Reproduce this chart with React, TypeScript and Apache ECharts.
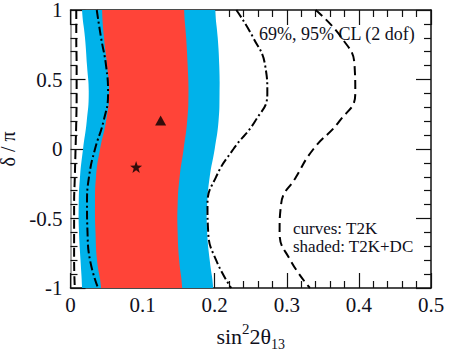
import React, { useEffect, useRef } from "react";
import * as echarts from "echarts";

// delta/pi sample levels (top to bottom)
const Y_LEVELS = [1, 0.8, 0.6, 0.4, 0.2, 0, -0.2, -0.4, -0.6, -0.8, -1];

// shaded: T2K+DC 95% CL band
const BLUE_LEFT = [0.016, 0.0201, 0.0229, 0.0253, 0.0225, 0.0174, 0.0132, 0.0114, 0.0118, 0.0139, 0.016];
const BLUE_RIGHT = [0.2007, 0.2042, 0.2063, 0.2067, 0.2053, 0.2, 0.1931, 0.1896, 0.1896, 0.1931, 0.1979];
// shaded: T2K+DC 69% CL band
const RED_LEFT = [0.0438, 0.0465, 0.0507, 0.0535, 0.0493, 0.041, 0.0354, 0.034, 0.0347, 0.0368, 0.0424];
const RED_RIGHT = [0.1576, 0.1604, 0.1625, 0.1636, 0.1618, 0.1569, 0.1514, 0.1486, 0.1486, 0.1507, 0.1549];
// curves: T2K 69% CL (dash-dot)
const T2K69_LEFT = [0.0364, 0.0424, 0.0493, 0.0521, 0.0458, 0.034, 0.0257, 0.0229, 0.0236, 0.0271, 0.0382];
const T2K69_RIGHT = [0.23, 0.2535, 0.27, 0.273, 0.256, 0.226, 0.202, 0.19, 0.191, 0.202, 0.223];
// curves: T2K 95% CL (dashed)
const T2K95_LEFT = [0.008, 0.008, 0.0085, 0.0085, 0.008, 0.007, 0.006, 0.005, 0.005, 0.005, 0.006];
const T2K95_RIGHT = [0.34, 0.376, 0.394, 0.395, 0.373, 0.337, 0.313, 0.292, 0.29, 0.305, 0.332];

// best fit points
const BEST_T2K_DC: [number, number] = [0.091, -0.13];
const BEST_T2K: [number, number] = [0.125, 0.205];

const X_TICKS = [0, 0.1, 0.2, 0.3, 0.4, 0.5];
const Y_TICKS = [-1, -0.5, 0, 0.5, 1];

const RED = "#FF4438";
const BLUE = "#00B2EA";
const TEXT = "#10101c";
const FONT = "Liberation Serif";

const STAR =
  "path://M0,-10 L2.35,-3.24 9.51,-3.09 3.8,1.24 5.88,8.09 0,4 -5.88,8.09 -3.8,1.24 -9.51,-3.09 -2.35,-3.24Z";

const pairs = (xs: number[]) => xs.map((x, i) => [x, Y_LEVELS[i]]);

const BANDS = [
  { left: BLUE_LEFT, right: BLUE_RIGHT, color: BLUE },
  { left: RED_LEFT, right: RED_RIGHT, color: RED },
];

export default function App() {
  const ref = useRef<HTMLDivElement>(null);
  useEffect(() => {
    if (!ref.current) return;
    const chart = echarts.init(ref.current, null, { renderer: "svg" });
    const axisCommon = (labels: boolean, lineColor: string) => ({
      axisLine: { show: true, onZero: false, lineStyle: { color: lineColor, width: 1.5 } },
      axisTick: { show: true, inside: true, length: 15, lineStyle: { color: "#111", width: 1.2 } },
      minorTick: { show: true, splitNumber: 5, length: 7, lineStyle: { color: "#111", width: 1.2 } },
      splitLine: { show: false },
      axisLabel: { show: labels },
    });
    const tickLabel = (margin: number) => ({
      show: true,
      fontFamily: FONT,
      fontSize: 21,
      color: TEXT,
      margin,
      formatter: (v: number) => String(+v.toFixed(2)),
    });
    chart.setOption({
      animation: false,
      textStyle: { fontFamily: FONT },
      grid: { left: 70.5, right: 30, top: 10, bottom: 68, outerBoundsMode: "none", containLabel: false },
      xAxis: [
        {
          type: "value",
          min: X_TICKS[0],
          max: X_TICKS[X_TICKS.length - 1],
          interval: 0.1,
          position: "bottom",
          ...axisCommon(true, "#111"),
          axisLabel: tickLabel(6),
          name: "{m|sin}{sup|2}{m|2θ}{sub|13}",
          nameLocation: "middle",
          nameGap: 33,
          nameTextStyle: {
            rich: {
              m: { fontFamily: FONT, fontSize: 22, lineHeight: 30, color: TEXT, verticalAlign: "middle" },
              sup: { fontFamily: FONT, fontSize: 15, lineHeight: 4, color: TEXT, verticalAlign: "top" },
              sub: { fontFamily: FONT, fontSize: 14, lineHeight: 6, color: TEXT, verticalAlign: "bottom" },
            },
          },
        },
        {
          type: "value",
          min: X_TICKS[0],
          max: X_TICKS[X_TICKS.length - 1],
          interval: 0.1,
          position: "top",
          ...axisCommon(false, "#111"),
        },
      ],
      yAxis: [
        {
          type: "value",
          min: Y_TICKS[0],
          max: Y_TICKS[Y_TICKS.length - 1],
          interval: 0.5,
          position: "left",
          ...axisCommon(true, "#888"),
          axisLabel: tickLabel(8),
          name: "δ / π",
          nameLocation: "middle",
          nameGap: 37,
          nameRotate: 90,
          nameTextStyle: { fontFamily: FONT, fontSize: 20, color: TEXT },
        },
        {
          type: "value",
          min: Y_TICKS[0],
          max: Y_TICKS[Y_TICKS.length - 1],
          interval: 0.5,
          position: "right",
          ...axisCommon(false, "#111"),
        },
      ],
      series: [
        {
          type: "custom",
          coordinateSystem: "cartesian2d",
          clip: true,
          silent: true,
          data: [[0, 0], [0, 0]],
          renderItem: (params: any, api: any) => {
            const b = BANDS[params.dataIndex];
            const l = Y_LEVELS.map((y, i) => api.coord([b.left[i], y]));
            const r = Y_LEVELS.map((y, i) => api.coord([b.right[i], y])).reverse();
            const n = l.length - 1;
            const pts = [
              [l[0][0], l[0][1] - 25],
              ...l,
              [l[n][0], l[n][1] + 25],
              [r[0][0], r[0][1] + 25],
              ...r,
              [r[n][0], r[n][1] - 25],
            ];
            return {
              type: "polygon",
              shape: { points: pts, smooth: 0.5 },
              style: { fill: b.color, stroke: null },
            };
          },
        },
        ...[T2K69_LEFT, T2K69_RIGHT].map((xs) => ({
          type: "line",
          data: pairs(xs),
          smooth: 0.5,
          symbol: "none",
          lineStyle: { color: "#000", width: 2, type: [9, 3, 2, 3] },
        })),
        ...[T2K95_LEFT, T2K95_RIGHT].map((xs) => ({
          type: "line",
          data: pairs(xs),
          smooth: 0.5,
          symbol: "none",
          lineStyle: { color: "#000", width: 2, type: [9, 5] },
        })),
        {
          type: "scatter",
          data: [BEST_T2K_DC],
          symbol: STAR,
          symbolSize: 12,
          itemStyle: { color: "#000" },
        },
        {
          type: "scatter",
          data: [BEST_T2K],
          symbol: "triangle",
          symbolSize: [11, 10],
          itemStyle: { color: "#000" },
        },
      ],
      graphic: [
        {
          type: "text",
          left: 259,
          top: 25,
          style: { text: "69%, 95% CL (2 dof)", fontSize: 18, fontFamily: FONT, fill: TEXT },
        },
        {
          type: "text",
          left: 293,
          top: 219,
          style: {
            text: "curves: T2K\nshaded: T2K+DC",
            fontSize: 17,
            fontFamily: FONT,
            lineHeight: 18,
            fill: TEXT,
          },
        },
      ],
    });
    return () => chart.dispose();
  }, []);
  return (
    <div
      ref={ref}
      style={{ position: "fixed", left: 0, top: 0, width: 461, height: 356, background: "#fff" }}
    />
  );
}
